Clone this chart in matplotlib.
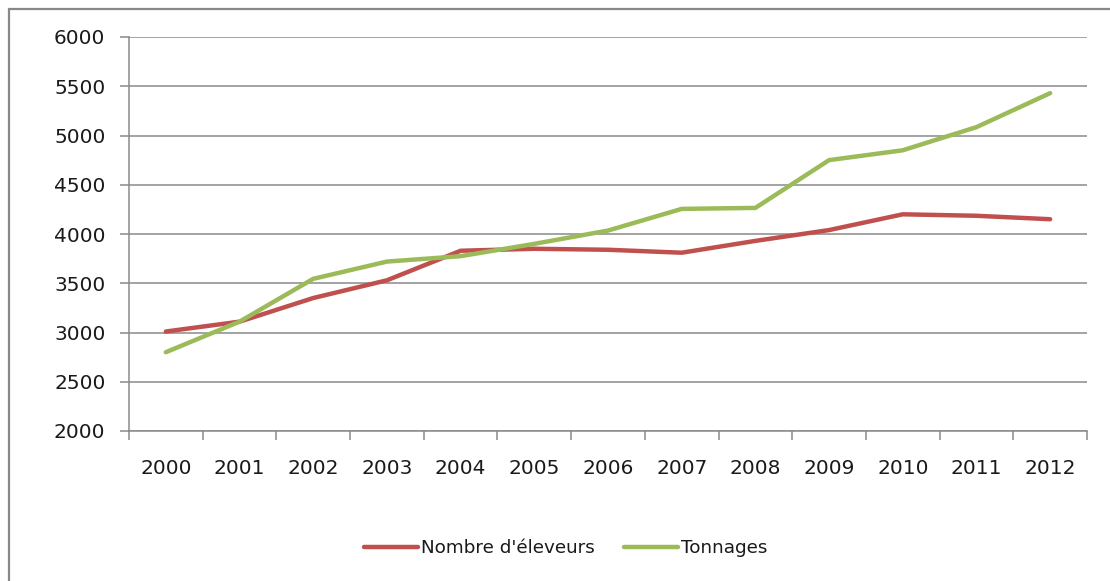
import numpy as np
import matplotlib
matplotlib.use("Agg")
import matplotlib.pyplot as plt
from matplotlib.patches import Rectangle

years = ["2000", "2001", "2002", "2003", "2004", "2005", "2006",
         "2007", "2008", "2009", "2010", "2011", "2012"]
eleveurs = [3010, 3110, 3350, 3530, 3830, 3850, 3840, 3810, 3930, 4040, 4200, 4185, 4150]
tonnages = [2800, 3110, 3545, 3720, 3775, 3900, 4035, 4255, 4265, 4750, 4850, 5085, 5430]

GRID = "#8a8a8a"
TXT = "#1a1a1a"

fig = plt.figure(figsize=(11.1, 5.81), dpi=100)
ax = fig.add_axes([129 / 1110, 1 - 431 / 581, (1087 - 129) / 1110, (431 - 37) / 581])

x = np.arange(len(years))
ax.plot(x, eleveurs, color="#C0504D", lw=3.2, solid_capstyle="round",
        solid_joinstyle="round", label="Nombre d'éleveurs", zorder=3)
ax.plot(x, tonnages, color="#9BBB59", lw=3.2, solid_capstyle="round",
        solid_joinstyle="round", label="Tonnages", zorder=3)

ax.set_xlim(-0.5, len(years) - 0.5)
ax.set_ylim(2000, 6000)
ax.set_yticks(np.arange(2000, 6001, 500))
ax.yaxis.grid(True, color=GRID, lw=1.1)
ax.set_axisbelow(True)

# category boundaries get tick marks, labels sit at the centers
ax.set_xticks(np.arange(-0.5, len(years), 1.0))
ax.set_xticklabels([])
ax.set_xticks(x, minor=True)
ax.set_xticklabels(years, minor=True)
ax.tick_params(axis="x", which="major", direction="out", length=6.5, width=1.1, color=GRID)
ax.tick_params(axis="x", which="minor", length=0, pad=20, labelsize=14.5, labelcolor=TXT)
ax.tick_params(axis="y", direction="out", length=6.5, width=1.1, color=GRID,
               pad=10.5, labelsize=14.5, labelcolor=TXT)

for s in ["top", "right"]:
    ax.spines[s].set_visible(False)
for s in ["left", "bottom"]:
    ax.spines[s].set_color(GRID)
    ax.spines[s].set_linewidth(1.1)

leg = fig.legend(loc="center", bbox_to_anchor=(566 / 1110, 1 - 548 / 581), ncol=2,
                 frameon=False, fontsize=13.2, handlelength=2.9, handletextpad=0.2,
                 columnspacing=1.6)
for t in leg.get_texts():
    t.set_color(TXT)

# outer chart frame, right and bottom edges fall outside the image
top = 1 - 9 / 581
fig.patches.append(Rectangle((9 / 1110, -0.2), 1.3, top + 0.2,
                             transform=fig.transFigure, fill=False,
                             edgecolor="#888888", lw=1.6))

fig.savefig("out.png", dpi=100)
